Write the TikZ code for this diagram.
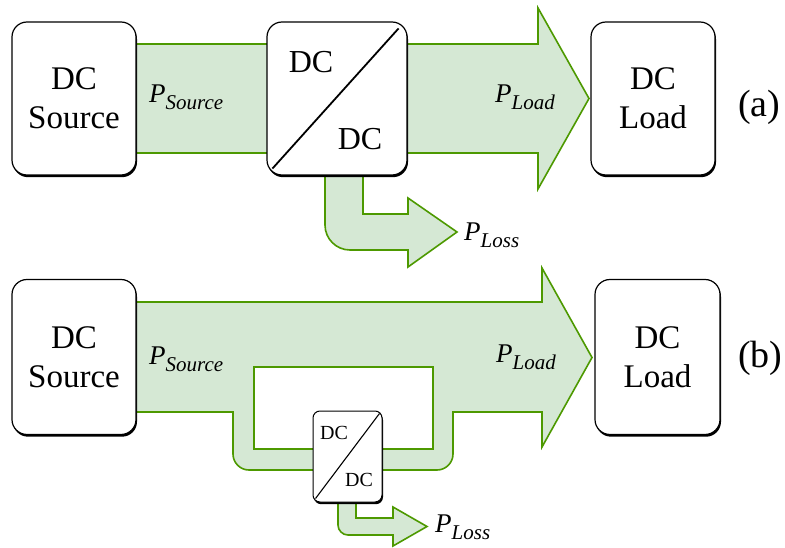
\documentclass[tikz,border=0pt]{standalone}
\usepackage{fontspec}
\setmainfont{Liberation Serif}
\usetikzlibrary{shadows}
\definecolor{flowfill}{HTML}{D5E8D4}
\definecolor{flowline}{HTML}{4D9900}
% power symbol with an italic subscript
\newcommand\plabel[2]{{\fontsize{27}{27}\selectfont\textit{#1}\raisebox{-7pt}{\fontsize{21}{21}\selectfont\textit{#2}}}}
\begin{document}
\begin{tikzpicture}[x=1pt,y=-1pt,
  flow/.style={fill=flowfill, draw=flowline, line width=1.6pt, line join=miter},
  box/.style={draw, fill=white, line width=1.2pt, inner sep=0pt, align=center,
    font=\fontsize{33}{39}\selectfont,
    drop shadow={shadow xshift=1pt, shadow yshift=-2.2pt, opacity=1, fill=black}},
  bigbox/.style={box, rounded corners=15pt},
  smallbox/.style={box, rounded corners=7pt, line width=1pt},
  convtext/.style={inner sep=0pt, font=\fontsize{32}{32}\selectfont},
  smalltext/.style={inner sep=0pt, font=\fontsize{20}{20}\selectfont},
  lbl/.style={inner sep=0pt, anchor=base west},
  tag/.style={inner sep=0pt, anchor=base west, font=\fontsize{38}{38}\selectfont}]
\useasboundingbox (0,0) rectangle (785,548);

% ---------- (a) series converter ----------
% main power flow: source -> converter -> load
\path[flow] (130,44) -- (538,44) -- (538,8) -- (589,98.5) -- (538,189) -- (538,153) -- (130,153) -- cycle;
% loss flow out of the converter
\path[flow] (325,168) -- (325,225) .. controls (325,238.8) and (336.2,250) .. (350,250)
  -- (408,250) -- (408,267) -- (457,232) -- (408,198) -- (408,214) -- (363,214) -- (363,168) -- cycle;

\node[bigbox, minimum width=124pt, minimum height=153pt] (srcA) at (74,98.5) {DC\\Source};
\node[bigbox, minimum width=140pt, minimum height=153pt] (convA) at (337,98.5) {};
\draw[line width=1.8pt] ([shift={(6,-7)}]convA.south west) -- ([shift={(-9,7)}]convA.north east);
\node[convtext] (convAin) at (311,62.5) {DC};
\node[convtext] (convAout) at (360,139) {DC};
\node[bigbox, minimum width=124pt, minimum height=153pt] (loadA) at (653,98.5) {DC\\Load};

\node[lbl] (psrcA) at (149,103) {\plabel{P}{Source}};
\node[lbl] (ploadA) at (495,103) {\plabel{P}{Load}};
\node[lbl] (plossA) at (464,241) {\plabel{P}{Loss}};
\node[tag] (tagA) at (738,117) {(a)};

% ---------- (b) partial-power converter ----------
% main power flow with the bypass loop through the converter
\path[flow, even odd rule] (130,302) -- (542,302) -- (542,268) -- (592,357.5) -- (542,447) -- (542,412)
  -- (453,412) -- (453,454) .. controls (453,462.8) and (445.8,470) .. (437,470)
  -- (249,470) .. controls (240.2,470) and (233,462.8) .. (233,454)
  -- (233,412) -- (130,412) -- cycle
  (254,367) rectangle (433,449);
% loss flow out of the small converter
\path[flow] (338,498) -- (338,525) .. controls (338,530.5) and (342.5,535) .. (348,535)
  -- (393,535) -- (393,546) -- (427,526.5) -- (393,507) -- (393,518) -- (356,518) -- (356,498) -- cycle;

\node[bigbox, minimum width=124pt, minimum height=155pt] (srcB) at (74,357) {DC\\Source};
\node[smallbox, minimum width=69pt, minimum height=91pt] (convB) at (347.5,456.5) {};
\draw[line width=1.1pt] ([shift={(3,-4)}]convB.south west) -- ([shift={(-3,3)}]convB.north east);
\node[smalltext] (convBin) at (334,433) {DC};
\node[smalltext] (convBout) at (359,480) {DC};
\node[bigbox, minimum width=125pt, minimum height=155pt] (loadB) at (657.5,357) {DC\\Load};

\node[lbl] (psrcB) at (149,364) {\plabel{P}{Source}};
\node[lbl] (ploadB) at (496,362) {\plabel{P}{Load}};
\node[lbl] (plossB) at (435,532) {\plabel{P}{Loss}};
\node[tag] (tagB) at (738,367) {(b)};
\end{tikzpicture}
\end{document}
